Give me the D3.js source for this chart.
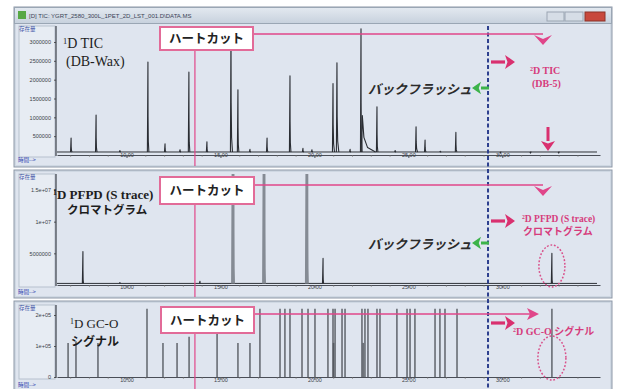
<!DOCTYPE html>
<html>
<head>
<meta charset="utf-8">
<script src="https://cdn.jsdelivr.net/npm/d3@7"></script>
<style>
  html, body { margin: 0; padding: 0; background: #fff; }
  svg { display: block; }
</style>
</head>
<body>
<div id="chart"></div>
<script>
// retention time axis (min)
const timeTicks = [10, 15, 20, 25, 30];
const timeTickLabels = ['10.00', '15.00', '20.00', '25.00', '30.00'];

// 1D TIC (DB-Wax)
const ticTimes   = [7.05, 8.38, 9.65, 11.14, 12.05, 12.85, 13.32, 14.28, 15.56, 15.93, 16.57, 17.48, 18.70, 19.39, 19.87,
                    20.99, 21.20, 21.90, 22.48, 22.55, 23.33, 24.30, 25.41, 25.89, 26.70, 27.53, 29.90, 31.50, 33.00];
const ticHeights = [450000, 1060000, 120000, 2470000, 300000, 140000, 2200000, 350000, 3350000, 1730000, 150000, 450000, 2100000, 180000, 140000,
                    1900000, 2450000, 150000, 3350000, 1050000, 1280000, 120000, 750000, 400000, 100000, 600000, 60000, 50000, 50000];
const ticTails   = [0.05, 0.05, 0.05, 0.05, 0.05, 0.05, 0.05, 0.05, 0.08, 0.05, 0.05, 0.05, 0.05, 0.05, 0.05,
                    0.08, 0.1, 0.05, 0.05, 0.7, 0.05, 0.05, 0.08, 0.05, 0.05, 0.05, 0.05, 0.05, 0.05];
const ticYTicks  = [500000, 1000000, 1500000, 2000000, 2500000, 3000000];
const ticYLabels = ['500000', '1000000', '1500000', '2000000', '2500000', '3000000'];

// PFPD (S trace)
const pfpdTimes   = [7.68, 9.65, 13.91, 15.67, 17.32, 19.60, 20.46, 32.64];
const pfpdHeights = [5300000, 400000, 600000, 20000000, 20000000, 20000000, 4200000, 5000000];
const pfpdYTicks  = [5000000, 10000000, 15000000];
const pfpdYLabels = ['5000000', '1e+07', '1.5e+07'];

// GC-O signal
const gcoTimes   = [6.89, 7.31, 8.48, 11.09, 11.94, 12.69, 13.33, 14.82, 15.93, 16.57, 17.10, 18.17, 18.43, 18.70,
                    19.34, 19.66, 20.03, 20.72, 20.99, 21.02, 21.10, 21.47, 21.63, 22.53, 22.60, 22.69, 22.85, 23.33, 23.49,
                    24.39, 24.93, 25.09, 25.35, 26.42, 26.68, 26.95, 27.59, 32.64];
const gcoHeights = [110000, 115000, 110000, 220000, 110000, 110000, 130000, 170000, 110000, 110000, 220000, 220000, 220000, 220000,
                    220000, 220000, 220000, 220000, 220000, 110000, 220000, 220000, 220000, 220000, 110000, 220000, 220000, 220000, 220000,
                    220000, 220000, 220000, 220000, 220000, 220000, 220000, 220000, 220000];
const gcoYTicks  = [0, 100000, 200000];
const gcoYLabels = ['0', '1e+05', '2e+05'];

const heartCutTime = 13.64;
const backflushTime = 29.24;

const width = 621;
const height = 389;

const pink = '#e0468a';
const pinkText = '#d63c7c';
const green = '#3cb34a';
const blue = '#2d3f8e';
const serif = '"Liberation Serif", "DejaVu Serif", serif';
const jp = '"Noto Sans CJK JP", "Noto Sans", sans-serif';

const svg = d3.select('#chart')
  .append('svg')
  .attr('width', width)
  .attr('height', height)
  .style('font-family', '"Liberation Sans", Arial, sans-serif');

svg.append('rect').attr('width', width).attr('height', height).attr('fill', '#fff');

const defs = svg.append('defs');
const grad = defs.append('linearGradient').attr('id', 'titlebar').attr('x1', 0).attr('y1', 0).attr('x2', 0).attr('y2', 1);
grad.append('stop').attr('offset', 0).attr('stop-color', '#e3e9f0');
grad.append('stop').attr('offset', 1).attr('stop-color', '#c7d1dd');

// shared time scale
const x = d3.scaleLinear().domain([6.3, 35.2]).range([57, 600]);

const panels = [
  { id: 'tic', top: 7, h: 160, bodyTop: 24, plotTop: 26, zeroY: 155, labelY: 161,
    y: d3.scaleLinear().domain([0, 3000000]).range([155, 42]), ticks: ticYTicks, labels: ticYLabels, base: 80000 },
  { id: 'pfpd', top: 170, h: 128, bodyTop: 172, plotTop: 174, zeroY: 285, labelY: 293,
    y: d3.scaleLinear().domain([0, 15000000]).range([285, 190]), ticks: pfpdYTicks, labels: pfpdYLabels, base: 250000 },
  { id: 'gco', top: 301, h: 92, bodyTop: 303, plotTop: 305, zeroY: 377, labelY: 386,
    y: d3.scaleLinear().domain([0, 200000]).range([377, 315]), ticks: gcoYTicks, labels: gcoYLabels, base: 0 }
];

panels.forEach(p => {
  const g = svg.append('g').attr('class', 'panel-' + p.id);

  g.append('rect')
    .attr('x', 14).attr('y', p.top).attr('width', 598).attr('height', p.h)
    .attr('fill', '#cfd8e3').attr('stroke', '#8d98a7');

  g.append('rect')
    .attr('x', 16).attr('y', p.bodyTop).attr('width', 594).attr('height', p.top + p.h - p.bodyTop - 2)
    .attr('fill', '#dfe5ef');

  // label column
  g.append('rect')
    .attr('x', 19).attr('y', p.plotTop).attr('width', 36).attr('height', p.zeroY - p.plotTop + 2)
    .attr('fill', '#e7ecf3').attr('stroke', '#b7c1ce');

  g.append('text')
    .attr('x', 19).attr('y', p.plotTop + 5)
    .attr('font-size', 5.5).attr('fill', '#4456a8').attr('font-family', jp)
    .text('存在量');

  // clip for plot
  defs.append('clipPath').attr('id', 'clip-' + p.id)
    .append('rect').attr('x', 56).attr('y', p.plotTop).attr('width', 550).attr('height', p.zeroY - p.plotTop + 6);

  // y axis
  const yAxis = d3.axisLeft(p.y)
    .tickValues(p.ticks)
    .tickFormat((d, i) => p.labels[i])
    .tickSize(2)
    .tickSizeOuter(0);

  const ya = g.append('g')
    .attr('transform', 'translate(56,0)')
    .call(yAxis);
  ya.select('.domain').remove();
  ya.selectAll('text').attr('font-size', 5.5).attr('fill', '#3b3f47');
  ya.selectAll('line').attr('stroke', '#555');

  g.append('line')
    .attr('x1', 56).attr('x2', 56).attr('y1', p.plotTop).attr('y2', p.zeroY + 1)
    .attr('stroke', '#3c4048').attr('stroke-width', 1.2);

  // x axis
  const xAxis = d3.axisBottom(x)
    .tickValues(timeTicks)
    .tickFormat((d, i) => timeTickLabels[i])
    .tickSize(3)
    .tickSizeOuter(0);

  const xa = g.append('g')
    .attr('transform', `translate(0, ${p.zeroY})`)
    .call(xAxis);
  xa.select('.domain').attr('stroke', '#4a4e57');
  xa.selectAll('line').attr('stroke', '#4a4e57');
  xa.selectAll('text').attr('font-size', 5.5).attr('fill', '#3b3f47').attr('y', p.labelY - p.zeroY - 4).attr('dy', 0);

  const minor = d3.axisBottom(x).tickValues(d3.range(7, 35, 1)).tickSize(1.5).tickFormat('');
  const mi = g.append('g').attr('transform', `translate(0, ${p.zeroY})`).call(minor);
  mi.select('.domain').remove();
  mi.selectAll('line').attr('stroke', '#666');

  g.append('text')
    .attr('x', 18).attr('y', p.labelY + 1)
    .attr('font-size', 5.5).attr('fill', '#3446b0').attr('font-family', jp)
    .text('時間-->');
});

// title bar of the window
svg.append('rect').attr('x', 14.5).attr('y', 7.5).attr('width', 597).attr('height', 16)
  .attr('fill', 'url(#titlebar)').attr('stroke', '#9aa6b4');
svg.append('rect').attr('x', 18).attr('y', 11).attr('width', 8).attr('height', 8).attr('fill', '#58a845');
svg.append('text').attr('x', 29).attr('y', 18).attr('font-size', 6).attr('fill', '#3a4456')
  .text('[D] TIC: YGRT_2580_300L_1PET_2D_LST_001.D\\DATA.MS');
svg.append('rect').attr('x', 547).attr('y', 12).attr('width', 17).attr('height', 9).attr('fill', '#d6dde6').attr('stroke', '#9ba6b3');
svg.append('rect').attr('x', 565).attr('y', 12).attr('width', 18).attr('height', 9).attr('fill', '#d6dde6').attr('stroke', '#9ba6b3');
svg.append('rect').attr('x', 585).attr('y', 12).attr('width', 20).attr('height', 9).attr('fill', '#c8483c').attr('stroke', '#8c3329');

const line = d3.line();

// chromatogram traces: each peak is a spike with a (possibly tailing) back side
function drawTrace(p, times, heights, tails, stroker) {
  const g = svg.append('g').attr('clip-path', `url(#clip-${p.id})`);
  g.append('path')
    .attr('d', line([[x.range()[0], p.y(p.base)], [x.range()[1] - 3, p.y(p.base)]]))
    .attr('fill', 'none').attr('stroke', '#2f3237').attr('stroke-width', 1);
  times.forEach((t, i) => {
    const wr = tails ? tails[i] : 0.03;
    const h = heights[i];
    const st = stroker(h);
    const pts = [[t - 0.03, p.base], [t, h], [t + wr * 0.12, p.base + (h - p.base) * 0.4],
                 [t + wr * 0.4, p.base + (h - p.base) * 0.12], [t + wr, p.base]];
    g.append('path')
      .attr('d', line(pts.map(d => [x(d[0]), p.y(d[1])])))
      .attr('fill', 'none').attr('stroke', st.stroke).attr('stroke-width', st.w)
      .attr('stroke-linejoin', 'round');
  });
}

drawTrace(panels[0], ticTimes, ticHeights, ticTails,
  h => ({ stroke: '#2a2d33', w: 1.1 }));
drawTrace(panels[1], pfpdTimes, pfpdHeights, null,
  h => h > 15000000 ? { stroke: '#858b94', w: 2.8 } : { stroke: '#2a2d33', w: 1.1 });

// GC-O bars
const gp = panels[2];
svg.append('g').attr('clip-path', `url(#clip-${gp.id})`)
  .selectAll('line')
  .data(gcoTimes)
  .enter()
  .append('line')
  .attr('x1', d => x(d)).attr('x2', d => x(d))
  .attr('y1', gp.y(0))
  .attr('y2', (d, i) => gp.y(gcoHeights[i]))
  .attr('stroke', '#4a4d54')
  .attr('stroke-width', 1.7)
  .attr('stroke-opacity', 0.75);

// ---- annotations ----
const hx = x(heartCutTime);
const bx = x(backflushTime);

// back flush dashed line
svg.append('line')
  .attr('x1', bx).attr('x2', bx).attr('y1', 26).attr('y2', height)
  .attr('stroke', blue).attr('stroke-width', 2).attr('stroke-dasharray', '4,2.5');

function arrow(x1, y1, x2, y2, color, w, head) {
  const a = Math.atan2(y2 - y1, x2 - x1);
  const bxp = x2 - Math.cos(a) * head, byp = y2 - Math.sin(a) * head;
  svg.append('line').attr('x1', x1).attr('y1', y1).attr('x2', bxp).attr('y2', byp)
    .attr('stroke', color).attr('stroke-width', w);
  const px = -Math.sin(a) * head * 0.7, py = Math.cos(a) * head * 0.7;
  svg.append('path')
    .attr('d', `M${x2},${y2}L${bxp + px},${byp + py}L${bxp + Math.cos(a) * head * 0.25},${byp + Math.sin(a) * head * 0.25}L${bxp - px},${byp - py}Z`)
    .attr('fill', color);
}

const cuts = [
  { box: [160, 27, 93, 23], lineY: 34, end: 'down', bottom: 166 },
  { box: [160, 177, 94, 27], lineY: 185, end: 'down', bottom: 297 },
  { box: [161, 307, 93, 26], lineY: 314, end: 'right', bottom: 389 }
];

cuts.forEach(c => {
  const [bx0, by0, bw, bh] = c.box;
  // heart cut vertical line
  svg.append('line')
    .attr('x1', hx).attr('x2', hx).attr('y1', by0 + bh).attr('y2', c.bottom)
    .attr('stroke', pink).attr('stroke-width', 1.4).attr('stroke-opacity', 0.85);
  if (c.end === 'down') {
    svg.append('line').attr('x1', bx0 + bw).attr('x2', 543).attr('y1', c.lineY).attr('y2', c.lineY)
      .attr('stroke', pink).attr('stroke-width', 1.4);
    svg.append('path')
      .attr('d', `M534,${c.lineY + 1}L543,${c.lineY + 11}L552,${c.lineY + 1}L543,${c.lineY + 5}Z`)
      .attr('fill', pink);
  } else {
    svg.append('line').attr('x1', bx0 + bw).attr('x2', 533).attr('y1', c.lineY).attr('y2', c.lineY)
      .attr('stroke', pink).attr('stroke-width', 1.4);
    svg.append('path')
      .attr('d', `M527,${c.lineY - 6}L539,${c.lineY}L527,${c.lineY + 6}L530,${c.lineY}Z`)
      .attr('fill', pink);
  }
  svg.append('rect')
    .attr('x', bx0).attr('y', by0).attr('width', bw).attr('height', bh)
    .attr('fill', '#fff').attr('stroke', '#e26b98').attr('stroke-width', 2);
  svg.append('text')
    .attr('x', bx0 + bw / 2).attr('y', by0 + bh / 2 + 4.5)
    .attr('text-anchor', 'middle')
    .attr('font-family', jp).attr('font-weight', 'bold').attr('font-size', 12.5)
    .attr('fill', '#222')
    .text('ハートカット');
});

// pink arrows to 2D
[62, 221, 323].forEach(yy => arrow(491, yy, 515, yy, '#d9306f', 3.2, 10));
// green back flush arrows
[88, 243].forEach(yy => arrow(489, yy, 472, yy, green, 3, 9));
// down arrow TIC
arrow(548, 127, 548, 151, '#d9306f', 3, 10);

// back flush labels
[94, 249].forEach(yy => {
  svg.append('text')
    .attr('x', 368).attr('y', yy)
    .attr('font-family', jp).attr('font-weight', 'bold').attr('font-size', 13)
    .attr('font-style', 'italic').attr('fill', '#2b2b2b')
    .text('バックフラッシュ');
});

// dotted ellipses around 2D peaks
[[266, 13, 21], [358, 14, 22]].forEach(([cy, rx, ry]) => {
  svg.append('ellipse')
    .attr('cx', x(pfpdTimes[pfpdTimes.length - 1])).attr('cy', cy).attr('rx', rx).attr('ry', ry)
    .attr('fill', 'none').attr('stroke', '#d9508a').attr('stroke-width', 1.5).attr('stroke-dasharray', '1.8,1.8');
});

function label(xp, yp, parts, size, color, family, weight) {
  const t = svg.append('text').attr('x', xp).attr('y', yp)
    .attr('font-size', size).attr('fill', color).attr('font-family', family).attr('font-weight', weight || 'normal');
  parts.forEach(pt => {
    const s = t.append('tspan').text(pt.t);
    if (pt.sup) s.attr('font-size', size * 0.6).attr('baseline-shift', 'super');
    if (pt.f) s.attr('font-family', pt.f).attr('font-weight', 'bold');
  });
}

// left labels
label(63, 48, [{ t: '1', sup: true }, { t: 'D TIC' }], 14, '#1d1d1d', serif);
label(66, 66, [{ t: '(DB-Wax)' }], 14, '#1d1d1d', serif);
label(53, 199, [{ t: '1', sup: true }, { t: 'D PFPD (S trace)' }], 13, '#1d1d1d', serif, 'bold');
label(67, 214, [{ t: 'クロマトグラム' }], 11.5, '#1d1d1d', jp, 'bold');
label(70, 328, [{ t: '1', sup: true }, { t: 'D GC-O' }], 13, '#1d1d1d', serif);
label(71, 346, [{ t: 'シグナル' }], 12, '#1d1d1d', jp, 'bold');

// right pink labels
label(530, 74, [{ t: '2', sup: true }, { t: 'D TIC' }], 10, pinkText, serif, 'bold');
label(532, 87, [{ t: '(DB-5)' }], 10, pinkText, serif, 'bold');
label(522, 222, [{ t: '2', sup: true }, { t: 'D PFPD (S trace)' }], 9.5, pinkText, serif, 'bold');
label(523, 235, [{ t: 'クロマトグラム' }], 10, pinkText, jp, 'bold');
label(513, 335, [{ t: '2', sup: true }, { t: 'D GC-O ' }, { t: 'シグナル', f: jp }], 10, pinkText, serif, 'bold');
</script>
</body>
</html>
